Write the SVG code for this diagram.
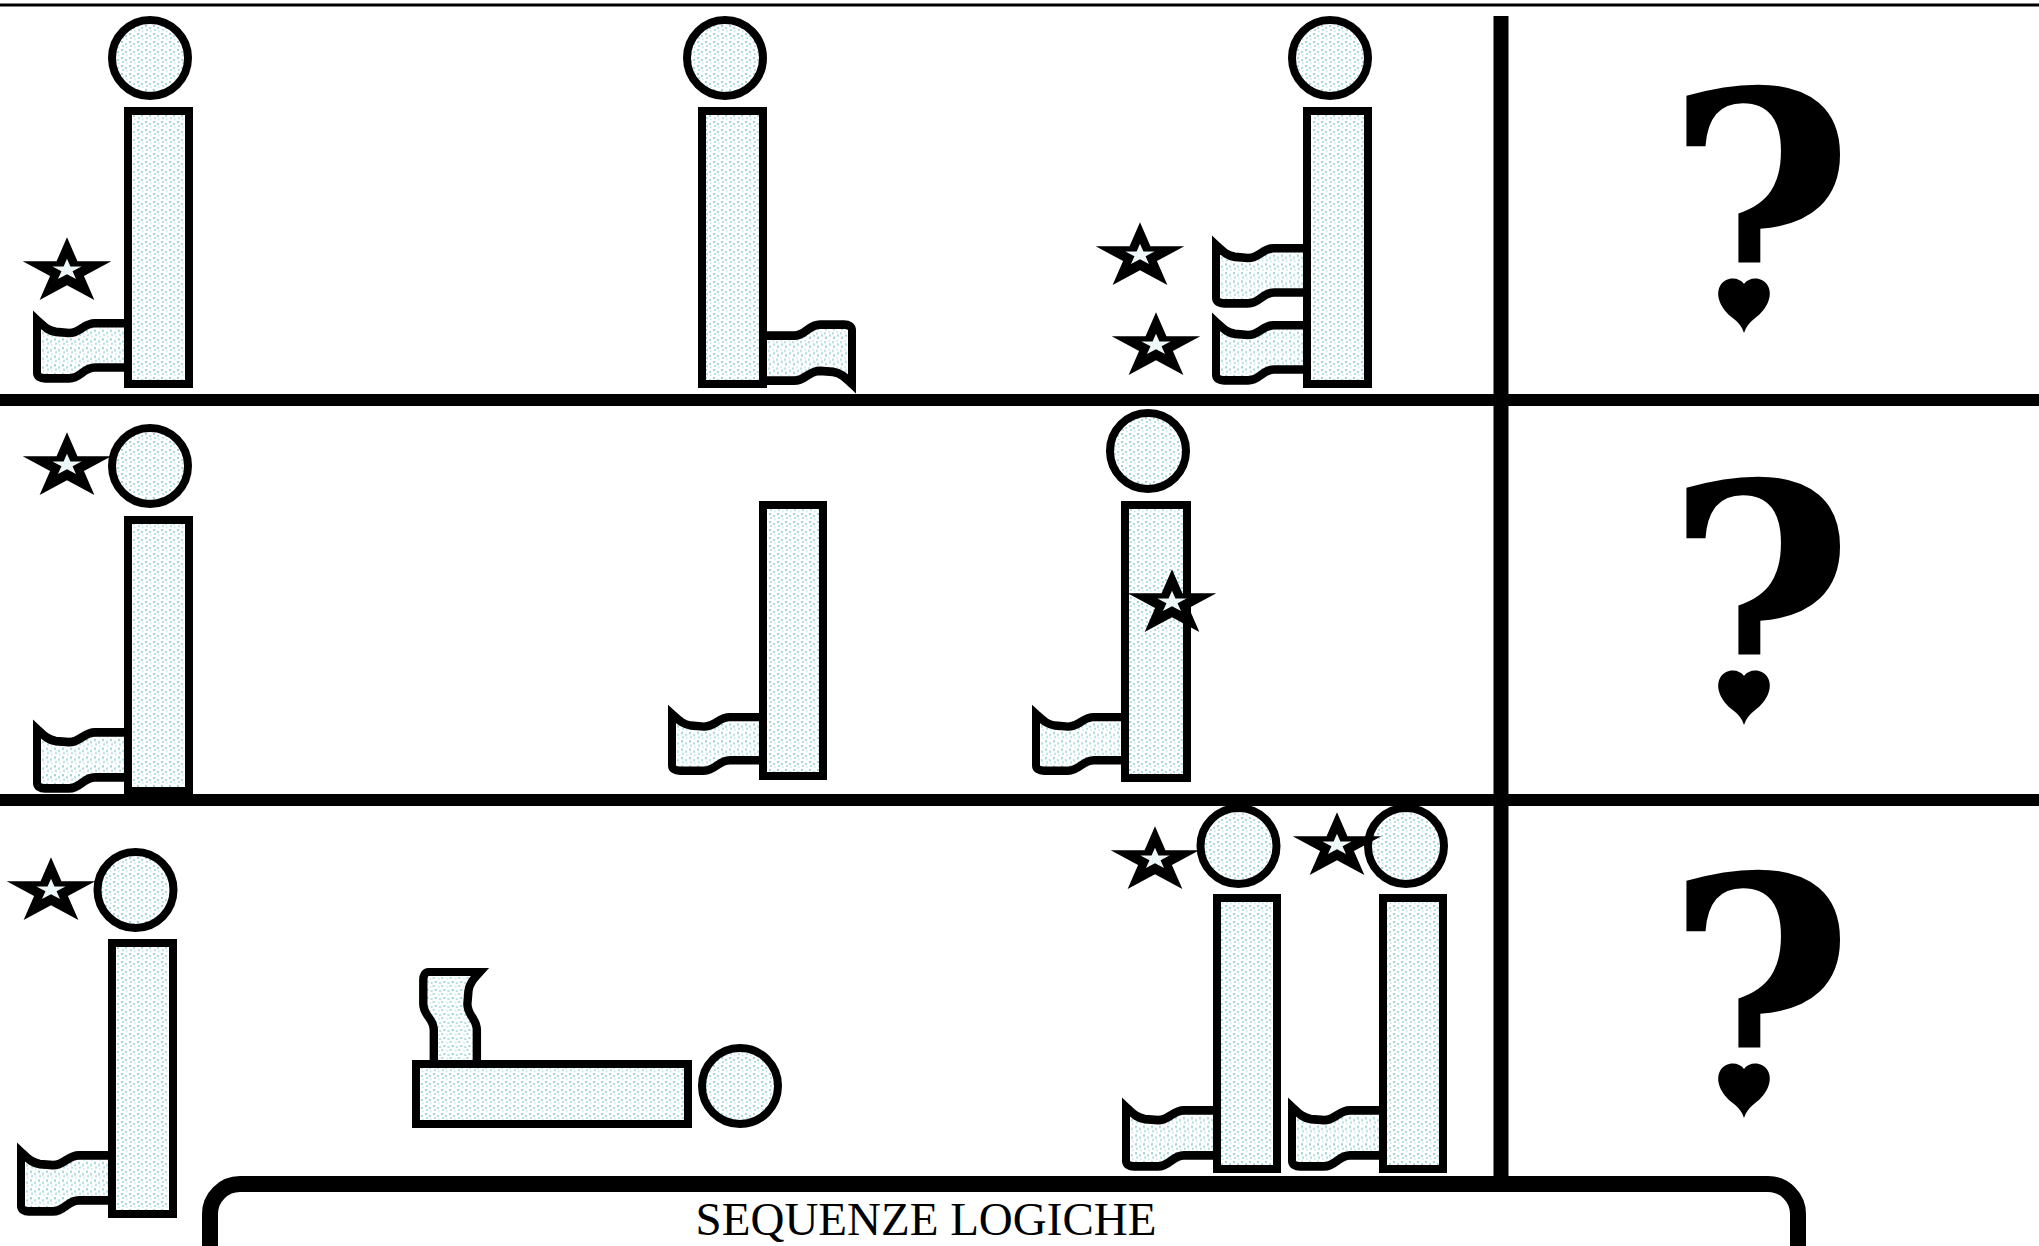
<svg xmlns="http://www.w3.org/2000/svg" width="2039" height="1246" viewBox="0 0 2039 1246">
<style>
.o{fill:url(#dots);stroke:#000;stroke-width:8;stroke-linejoin:miter;stroke-miterlimit:4}
.ln{stroke:#000;fill:none}
.q{font-family:"DejaVu Serif",serif;font-weight:bold;font-size:336px;fill:#000}
.t{font-family:"Liberation Serif","Times New Roman",serif;font-size:47px;fill:#000}
</style>
<defs>
<pattern id="dots" width="8" height="8" patternUnits="userSpaceOnUse">
<rect width="8" height="8" fill="#ffffff"/>
<rect x="1" y="1" width="2" height="2" fill="#9fd4da"/>
<rect x="5" y="3" width="2" height="2" fill="#aedbe0"/>
<rect x="2" y="5" width="2" height="2" fill="#b8e0e4"/>
<rect x="6" y="6.5" width="1.5" height="1.5" fill="#c6e6e9"/>
</pattern>
<path id="flag" d="M0,0 C7,6 11,10 19,11 L32,12 C44,12 46,3 58,3 L92,3 L92,44 L58,44 C46,44 44,54 32,54 L8,54 C3,54 0,52 0,49 Z"/>
<path id="starshape" d="M0,-34 L7.63,-10.51 L32.34,-10.51 L12.35,4.01 L19.98,27.51 L0,12.99 L-19.98,27.51 L-12.35,4.01 L-32.34,-10.51 L-7.63,-10.51 Z"/>
<g id="star">
<use href="#starshape" fill="#000" transform="scale(1.37,1.02)"/>
<use href="#starshape" fill="url(#dots)" transform="translate(0,-2) scale(0.45,0.33)"/>
</g>
<path id="heart" d="M0,5 C-5,-2 -18,-3 -24,7 C-30,19 -20,33 -10,40 C-5,44 -2,48 0,54 C2,48 5,44 10,40 C20,33 30,19 24,7 C18,-3 5,-2 0,5 Z"/>
<clipPath id="c1"><rect x="1600" y="0" width="300" height="264"/></clipPath>
<clipPath id="c2"><rect x="1600" y="410" width="300" height="246"/></clipPath>
<clipPath id="c3"><rect x="1600" y="810" width="300" height="239"/></clipPath>
</defs>
<rect width="2039" height="1246" fill="#ffffff"/>

<g id="frame">
<line class="ln" x1="0" y1="5" x2="2039" y2="5" stroke-width="3" stroke="#222"/>
<line class="ln" x1="0" y1="400" x2="2039" y2="400" stroke-width="12"/>
<line class="ln" x1="0" y1="800" x2="2039" y2="800" stroke-width="12"/>
<line class="ln" x1="1501" y1="16" x2="1501" y2="1180" stroke-width="15"/>
</g>

<g id="connectors"></g>

<g id="r1f1">
<use href="#flag" class="o" transform="translate(37,320) scale(1,1.08)"/>
<rect class="o" x="128" y="111" width="61" height="273"/>
<circle class="o" cx="150" cy="58" r="38"/>
<use href="#star" transform="translate(67,272)"/>
</g>

<g id="r1f2">
<use href="#flag" class="o" transform="translate(852,384) rotate(180) scale(1,1.1)"/>
<rect class="o" x="702" y="111" width="61" height="273"/>
<circle class="o" cx="725" cy="58" r="38"/>
</g>

<g id="r1f3">
<use href="#flag" class="o" transform="translate(1216,245) scale(1,1.08)"/>
<use href="#flag" class="o" transform="translate(1216,322) scale(1,1.08)"/>
<rect class="o" x="1307" y="111" width="61" height="273"/>
<circle class="o" cx="1330" cy="58" r="38"/>
<use href="#star" transform="translate(1140,257)"/>
<use href="#star" transform="translate(1156,347)"/>
</g>

<g id="r1q">
<g clip-path="url(#c1)"><text class="q" x="0" y="0" text-anchor="middle" transform="translate(1760,334) scale(0.96,1)">?</text></g>
<use href="#heart" transform="translate(1744,279)"/>
</g>

<g id="r2f1">
<use href="#flag" class="o" transform="translate(37,729) scale(1,1.1)"/>
<rect class="o" x="128" y="520" width="61" height="271"/>
<circle class="o" cx="150" cy="466" r="38"/>
<use href="#star" transform="translate(67,467)"/>
</g>

<g id="r2f2">
<use href="#flag" class="o" transform="translate(672,714) scale(1,1.05)"/>
<rect class="o" x="763" y="505" width="60" height="271"/>
</g>

<g id="r2f3">
<use href="#flag" class="o" transform="translate(1036,714) scale(1,1.05)"/>
<rect class="o" x="1125" y="505" width="62" height="273"/>
<circle class="o" cx="1148" cy="451" r="38"/>
<use href="#star" transform="translate(1172,604)"/>
</g>

<g id="r2q">
<g clip-path="url(#c2)"><text class="q" x="0" y="0" text-anchor="middle" transform="translate(1760,726) scale(0.96,1)">?</text></g>
<use href="#heart" transform="translate(1744,671)"/>
</g>

<g id="r3f1">
<use href="#flag" class="o" transform="translate(21,1152) scale(1,1.1)"/>
<rect class="o" x="112" y="943" width="61" height="271"/>
<circle class="o" cx="135.5" cy="890" r="38"/>
<use href="#star" transform="translate(51,892)"/>
</g>

<g id="r3f2">
<use href="#flag" class="o" transform="translate(480,972) rotate(90) scale(1,1.05)"/>
<rect class="o" x="416" y="1064" width="272" height="60"/>
<circle class="o" cx="740" cy="1086" r="38"/>
</g>

<g id="r3f3">
<use href="#flag" class="o" transform="translate(1126,1107) scale(1,1.1)"/>
<rect class="o" x="1217" y="898" width="60" height="271"/>
<circle class="o" cx="1238.5" cy="846" r="38"/>
<use href="#star" transform="translate(1155,861)"/>
<use href="#flag" class="o" transform="translate(1292,1107) scale(1,1.1)"/>
<rect class="o" x="1383" y="898" width="60" height="271"/>
<circle class="o" cx="1406" cy="846" r="38"/>
<use href="#star" transform="translate(1337,847)"/>
</g>

<g id="r3q">
<g clip-path="url(#c3)"><text class="q" x="0" y="0" text-anchor="middle" transform="translate(1760,1119) scale(0.96,1)">?</text></g>
<use href="#heart" transform="translate(1744,1064)"/>
</g>

<g id="title">
<rect x="210" y="1184" width="1588" height="200" rx="30" ry="30" fill="none" stroke="#000" stroke-width="16"/>
<text class="t" x="926" y="1235" text-anchor="middle">SEQUENZE LOGICHE</text>
</g>
</svg>
